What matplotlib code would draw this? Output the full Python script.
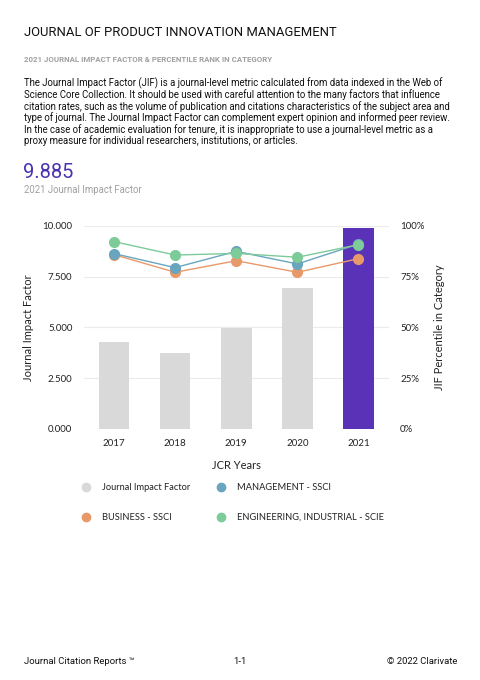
import matplotlib
matplotlib.use("Agg")
import matplotlib.pyplot as plt
from matplotlib.lines import Line2D

years = ["2017", "2018", "2019", "2020", "2021"]
jif = [4.29, 3.76, 4.99, 6.96, 9.885]
management = [86.4, 79.5, 87.5, 81.3, 91.1]
business = [85.9, 77.2, 82.9, 77.2, 83.9]
engineering = [92.3, 85.7, 86.5, 84.6, 90.8]
left_ticks = [0, 2.5, 5, 7.5, 10]
left_labels = ["0.000", "2.500", "5.000", "7.500", "10.000"]
right_labels = ["0%", "25%", "50%", "75%", "100%"]

GRAY = "#d9d9d9"
PURPLE = "#5a32b8"
BLUE = "#6aa5bf"
ORANGE = "#e8996a"
GREEN = "#7ccb98"

W, H = 481, 680
fig = plt.figure(figsize=(W / 100, H / 100), dpi=100)
fig.patch.set_facecolor("white")

def fx(px):
    return px / W

def fy(py):
    return 1 - py / H

HF = ["Roboto", "DejaVu Sans"]
CF = ["Lato", "DejaVu Sans"]

fig.text(fx(24), fy(32), "JOURNAL OF PRODUCT INNOVATION MANAGEMENT", family=HF,
         fontsize=9.4, color="#111111", va="center", ha="left")
fig.text(fx(24), fy(60), "2021 JOURNAL IMPACT FACTOR & PERCENTILE RANK IN CATEGORY", family=HF,
         fontsize=5.7, color="#a0a0a0", va="center", ha="left", fontweight="bold")
para = ("The Journal Impact Factor (JIF) is a journal-level metric calculated from data indexed in the Web of\n"
        "Science Core Collection. It should be used with careful attention to the many factors that influence\n"
        "citation rates, such as the volume of publication and citations characteristics of the subject area and\n"
        "type of journal. The Journal Impact Factor can complement expert opinion and informed peer review.\n"
        "In the case of academic evaluation for tenure, it is inappropriate to use a journal-level metric as a\n"
        "proxy measure for individual researchers, institutions, or articles.")
fig.text(fx(24), fy(77), para, family=HF, fontsize=6.95, color="#111111", va="top", ha="left",
         linespacing=1.07)
fig.text(fx(23), fy(172), "9.885", family=HF, fontsize=14.5, color="#4b33b0", va="center", ha="left")
fig.text(fx(24), fy(190), "2021 Journal Impact Factor", family=HF, fontsize=6.9, color="#a0a0a0",
         va="center", ha="left")

ax = fig.add_axes([fx(83.5), fy(429), fx(389) - fx(83.5), fy(226) - fy(429)])
x = list(range(len(years)))
colors = [GRAY] * (len(years) - 1) + [PURPLE]
ax.bar(x, jif, width=0.5, color=colors, zorder=2)
ax.set_xlim(-0.5, len(years) - 0.5)
ax.set_ylim(0, 10)
ax.set_yticks(left_ticks)
ax.set_yticklabels(left_labels, family=CF, fontsize=7, color="#222222")
ax.set_xticks(x)
ax.set_xticklabels(years, family=CF, fontsize=7, color="#222222")
ax.tick_params(length=0, pad=8)
ax.tick_params(axis="x", pad=7)
ax.grid(axis="y", color="#ebebeb", linewidth=0.8, zorder=0)
for s in ax.spines.values():
    s.set_visible(False)
ax.set_ylabel("Journal Impact Factor", family=CF, fontsize=8, color="#222222", labelpad=6)
ax.set_xlabel("JCR Years", family=CF, fontsize=8, color="#222222", labelpad=9)

ax2 = ax.twinx()
ax2.set_ylim(0, 100)
ax2.set_yticks([0, 25, 50, 75, 100])
ax2.set_yticklabels(right_labels, family=CF, fontsize=7, color="#222222")
ax2.tick_params(length=0, pad=8)
for s in ax2.spines.values():
    s.set_visible(False)
ax2.set_ylabel("JIF Percentile in Category", family=CF, fontsize=8, color="#222222", labelpad=7)
for vals, c in [(business, ORANGE), (management, BLUE), (engineering, GREEN)]:
    ax2.plot(x, vals, color=c, linewidth=1.0, marker="o", markersize=7, zorder=3)

# legend
items = [(86, 487, GRAY, "Journal Impact Factor"), (221, 487, BLUE, "MANAGEMENT - SSCI"),
         (86, 517, ORANGE, "BUSINESS - SSCI"), (221, 517, GREEN, "ENGINEERING, INDUSTRIAL - SCIE")]
for px, py, c, lab in items:
    fig.add_artist(Line2D([fx(px)], [fy(py)], marker="o", markersize=6, color=c, linestyle="none",
                          transform=fig.transFigure))
    fig.text(fx(px + 16), fy(py), lab, family=CF, fontsize=6.7, color="#222222", va="center", ha="left")

fig.text(fx(24), fy(662), "Journal Citation Reports \u2122", family=HF, fontsize=6.8, color="#111111",
         va="center", ha="left")
fig.text(fx(240), fy(662), "1-1", family=HF, fontsize=6.8, color="#111111", va="center", ha="center")
fig.text(fx(457), fy(662), "\u00a9 2022 Clarivate", family=HF, fontsize=6.8, color="#111111",
         va="center", ha="right")

fig.savefig("out.png", dpi=100, facecolor="white")
